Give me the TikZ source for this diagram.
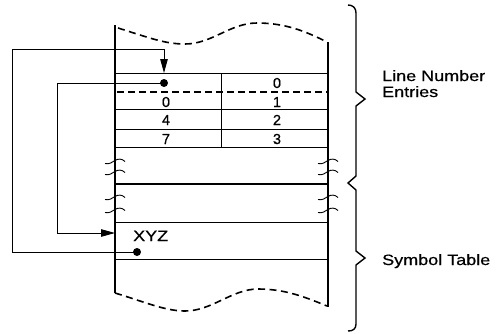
\documentclass[tikz,border=0pt]{standalone}
\usepackage{fontspec}
\setmainfont{Liberation Sans}[FakeBold=0.6]
\newfontfamily\lblfont[FakeStretch=1.2,FakeBold=0.6]{Liberation Sans}
\usetikzlibrary{arrows.meta}
\begin{document}
\begin{tikzpicture}[x=1pt,y=-1pt,
  rule/.style={line width=0.8pt},
  rail/.style={line width=1.1pt},
  heavy/.style={line width=2.2pt},
  wave/.style={line width=1.6pt, dash pattern=on 7pt off 4.5pt},
  sepdash/.style={line width=1.6pt, dash pattern=on 7pt off 4pt},
  link/.style={line width=0.9pt, -{Triangle[length=14pt,width=7.5pt]}},
  dot/.style={circle, fill, inner sep=0pt, minimum size=8pt},
  num/.style={font=\fontsize{14.5}{14.5}\selectfont, inner sep=0pt, anchor=base},
  lbl/.style={font=\lblfont\fontsize{15}{16}\selectfont, inner sep=0pt, anchor=base west, align=left},
  brace/.style={line width=1.4pt, line join=miter},
  brk/.pic={\draw[line width=0.9pt] (-10,2.5) .. controls (-6,3.5) and (-3,1.5) .. (0,-0.5) .. controls (3,-2.5) and (7,-2.5) .. (10,0.5);}]

\useasboundingbox (0,0) rectangle (498,333);

% vertical rails of the memory block
\draw[rail] (115,25) -- (115,293);
\draw[rail] (328,42) -- (328,307);

% torn top and bottom edges
\draw[wave] (118,28) .. controls (150,38) and (165,44) .. (185,44)
  .. controls (212,44) and (230,23) .. (257,23)
  .. controls (285,23) and (305,31) .. (327,42);
\draw[wave] (115,293) .. controls (145,302) and (165,311) .. (185,311)
  .. controls (212,311) and (232,289) .. (258,289)
  .. controls (285,289) and (305,297) .. (327,306);

% line number entries
\draw[rule] (115,73) -- (328,73);
\draw[sepdash] (117,92) -- (328,92);
\draw[rule] (115,109) -- (328,109);
\draw[rule] (115,129) -- (328,129);
\draw[rule] (115,147) -- (328,147);
\draw[rule] (221,73) -- (221,147);

\node[num] (r0) at (277,88) {0};
\node[num] (l1) at (166,107) {0};
\node[num] (r1) at (277,107) {1};
\node[num] (l2) at (166,125) {4};
\node[num] (r2) at (277,125) {2};
\node[num] (l3) at (166,144) {7};
\node[num] (r3) at (277,144) {3};

% boundary between the two sections
\draw[heavy] (115,184) -- (328,184);

% break marks on the rails
\foreach \yy in {161,172,197,210} {
  \pic at (115,\yy) {brk};
  \pic at (328,\yy) {brk};
}

% symbol table entry
\draw[rule] (115,222) -- (328,222);
\draw[rule] (115,259) -- (328,259);
\node[lbl] (xyz) at (133,241) {XYZ};

% pointers
\node[dot] (ptrA) at (164,83) {};
\node[dot] (ptrB) at (137,252) {};
\coordinate (lnTop) at (164,73);
\coordinate (symIn) at (115,233);
\draw[link] (ptrB.center) -- (12,252) -- (12,49) -- (164,49) -- (lnTop);
\draw[link] (ptrA.center) -- (57,83) -- (57,233) -- (symIn);

% section braces
\draw[brace] (348,5) .. controls (353,5) and (356,8) .. (356,13)
  -- (356,92) -- (365,99) -- (356,106)
  -- (356,176) -- (348,183) -- (356,190)
  -- (356,251) -- (365,258) -- (356,265)
  -- (356,324) .. controls (356,329) and (353,331) .. (348,331);

\node[lbl] (lne) at (382,97) {Line Number\\Entries};
\node[lbl] (sym) at (382,265) {Symbol Table};
\end{tikzpicture}
\end{document}
